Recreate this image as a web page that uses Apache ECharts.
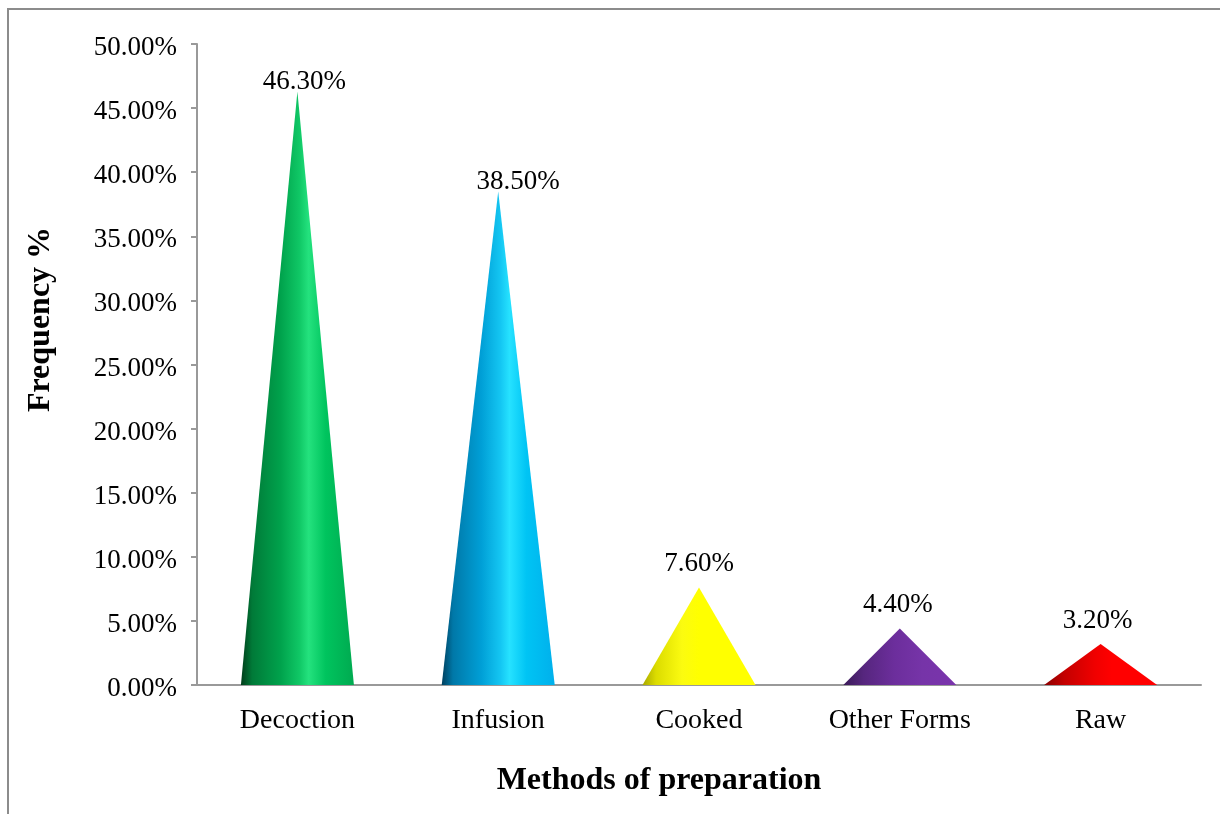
<!DOCTYPE html>
<html>
<head>
<meta charset="utf-8">
<script src="https://cdn.jsdelivr.net/npm/echarts@6/dist/echarts.min.js"></script>
<style>
  html, body { margin: 0; padding: 0; background: #ffffff; }
  #chart { width: 1220px; height: 814px; }
</style>
</head>
<body>
<div id="chart"></div>
<script>
// Methods of preparation and their share of reported uses (%)
const categories = ['Decoction', 'Infusion', 'Cooked', 'Other Forms', 'Raw'];
const frequency = [46.3, 38.5, 7.6, 4.4, 3.2];

// Cone shading per method: [offset, colour] stops across the cone, left to right
const coneShades = [
  [[0, '#003d1a'], [0.1, '#007a38'], [0.35, '#00a24c'], [0.52, '#10c866'], [0.6, '#24e27e'], [0.75, '#00c45e'], [1, '#00aa50']],
  [[0, '#00405e'], [0.1, '#0078a8'], [0.35, '#009fd6'], [0.52, '#14c6f2'], [0.6, '#26e2ff'], [0.75, '#00c4f4'], [1, '#00b0ec']],
  [[0, '#a8a800'], [0.12, '#dcdc00'], [0.35, '#fbfb10'], [0.5, '#ffff00'], [1, '#ffff00']],
  [[0, '#3a1a58'], [0.18, '#56267e'], [0.45, '#6c2e9c'], [0.7, '#7634a8'], [1, '#7a34ac']],
  [[0, '#8a0000'], [0.18, '#c40000'], [0.45, '#f00000'], [0.6, '#ff0000'], [1, '#ff0000']]
];

// Nudges for the value labels, in pixels
const labelNudge = [[7, 5], [20, 5], [0, -9], [-2, -9], [-3, -9]];

const serif = '"Liberation Serif", "Times New Roman", serif';

function shade(stops) {
  return new echarts.graphic.LinearGradient(0, 0, 1, 0,
    stops.map(s => ({ offset: s[0], color: s[1] })));
}

const chart = echarts.init(document.getElementById('chart'), null, { renderer: 'canvas' });

chart.setOption({
  backgroundColor: '#ffffff',
  animation: false,
  graphic: [{
    type: 'rect',
    shape: { x: 8, y: 9, width: 1400, height: 1000 },
    style: { fill: 'none', stroke: '#8c8c8c', lineWidth: 2 },
    silent: true
  }],
  grid: { left: 197, right: 19, top: 44, bottom: 129, containLabel: false },
  xAxis: {
    type: 'category',
    data: categories,
    name: 'Methods of preparation',
    nameLocation: 'middle',
    nameGap: 80,
    nameTextStyle: {
      fontFamily: serif, fontSize: 32, fontWeight: 'bold', color: '#000',
      padding: [0, 80, 0, 0]
    },
    axisLine: { lineStyle: { color: '#999999', width: 2 } },
    axisTick: { show: false },
    axisLabel: { fontFamily: serif, fontSize: 28, color: '#000', margin: 22 },
    splitLine: { show: false }
  },
  yAxis: {
    type: 'value',
    min: 0,
    max: 50,
    interval: 5,
    name: 'Frequency %',
    nameLocation: 'middle',
    nameGap: 140,
    nameRotate: 90,
    nameTextStyle: {
      fontFamily: serif, fontSize: 32, fontWeight: 'bold', color: '#000',
      padding: [0, 0, 0, 90]
    },
    axisLine: { show: true, lineStyle: { color: '#999999', width: 2 } },
    axisTick: { show: true, length: 6, lineStyle: { color: '#999999', width: 2 } },
    axisLabel: {
      color: '#000', margin: 20,
      formatter: v => '{t|' + v.toFixed(2) + '%}',
      rich: {
        t: { fontFamily: serif, fontSize: 27, color: '#000', padding: [8, 0, 0, 0] }
      }
    },
    splitLine: { show: false }
  },
  series: [{
    type: 'pictorialBar',
    symbol: 'triangle',
    symbolSize: [113, '100%'],
    symbolPosition: 'start',
    data: frequency.map((v, i) => ({
      value: v,
      itemStyle: { color: shade(coneShades[i]) },
      label: { offset: labelNudge[i] }
    })),
    label: {
      show: true,
      position: 'top',
      distance: 1,
      fontFamily: serif,
      fontSize: 27,
      color: '#000',
      formatter: p => p.value.toFixed(2) + '%'
    }
  }]
});
</script>
</body>
</html>
